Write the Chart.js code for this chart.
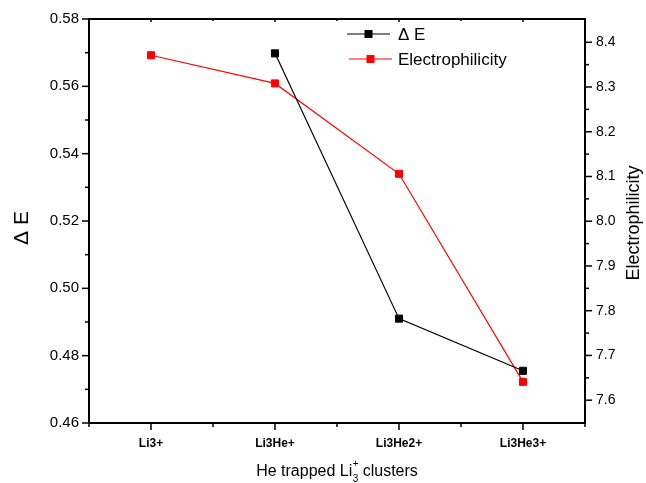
<!DOCTYPE html>
<html>
<head>
<meta charset="utf-8">
<script src="https://cdn.jsdelivr.net/npm/chart.js@4.4.1/dist/chart.umd.min.js"></script>
<style>
  html, body { margin: 0; padding: 0; background: #fff; }
  #wrap { width: 646px; height: 483px; }
</style>
</head>
<body>
<div id="wrap"><canvas id="grafico" width="646" height="483"></canvas></div>
<script>
// dados
const categorias = ["Li3+", "Li3He+", "Li3He2+", "Li3He3+"];
const deltaE = [null, 0.5698, 0.4910, 0.4755];
const eletrofilicidade = [8.371, 8.308, 8.106, 7.641];
const ticksEsq = [0.46, 0.48, 0.50, 0.52, 0.54, 0.56, 0.58];
const ticksDir = [7.6, 7.7, 7.8, 7.9, 8.0, 8.1, 8.2, 8.3, 8.4];

const fonte = '"Liberation Sans", Arial, sans-serif';

// eixos, moldura, títulos e legenda desenhados a partir das escalas do Chart.js
const eixosPlugin = {
    id: 'eixos',
    afterDraw(chart) {
        const ctx = chart.ctx;
        const area = chart.chartArea;
        const sx = chart.scales.x;
        const sy = chart.scales.y;
        const sy2 = chart.scales.y2;

        ctx.save();
        ctx.strokeStyle = '#000';
        ctx.fillStyle = '#000';

        // moldura
        ctx.lineWidth = 2;
        ctx.strokeRect(area.left, area.top, area.right - area.left, area.bottom - area.top);

        ctx.lineWidth = 1.5;
        const linha = (x1, y1, x2, y2) => {
            ctx.beginPath();
            ctx.moveTo(x1, y1);
            ctx.lineTo(x2, y2);
            ctx.stroke();
        };

        // eixo esquerdo
        ctx.font = '15px ' + fonte;
        ctx.textAlign = 'right';
        ctx.textBaseline = 'middle';
        ticksEsq.forEach((v, i) => {
            const y = sy.getPixelForValue(v);
            linha(area.left - 7, y, area.left, y);
            ctx.fillText(v.toFixed(2), area.left - 10, y);
            if (i < ticksEsq.length - 1) {
                const ym = sy.getPixelForValue((v + ticksEsq[i + 1]) / 2);
                linha(area.left - 4, ym, area.left, ym);
            }
        });

        // eixo direito
        ctx.font = '14px ' + fonte;
        ctx.textAlign = 'left';
        ticksDir.forEach((v, i) => {
            const y = sy2.getPixelForValue(v);
            linha(area.right, y, area.right + 7, y);
            ctx.fillText(v.toFixed(1), area.right + 11, y);
            if (i < ticksDir.length - 1) {
                const ym = sy2.getPixelForValue((v + ticksDir[i + 1]) / 2);
                linha(area.right, ym, area.right + 4, ym);
            }
        });

        // eixo inferior (categorias)
        ctx.font = 'bold 12px ' + fonte;
        ctx.textAlign = 'center';
        ctx.textBaseline = 'alphabetic';
        categorias.forEach((c, i) => {
            const x = sx.getPixelForValue(i);
            linha(x, area.bottom, x, area.bottom + 7);
            linha(x, area.top, x, area.top + 3);
            ctx.fillText(c, x, area.bottom + 24);
        });
        for (let i = 0; i <= categorias.length; i++) {
            const x = sx.getPixelForValue(i - 0.5);
            linha(x, area.bottom, x, area.bottom + 4);
            linha(x, area.top, x, area.top + 2);
        }

        // título do eixo x com Li3+ (sobrescrito / subscrito)
        ctx.font = '16px ' + fonte;
        ctx.textAlign = 'left';
        const t1 = 'He trapped Li';
        const t2 = ' clusters';
        const w1 = ctx.measureText(t1).width;
        const w2 = ctx.measureText(t2).width;
        const wInd = 6;
        const total = w1 + wInd + w2;
        const x0 = (area.left + area.right) / 2 - total / 2;
        const base = area.bottom + 53;
        ctx.fillText(t1, x0, base);
        ctx.font = '10px ' + fonte;
        ctx.fillText('+', x0 + w1 + 0.5, base - 9);
        ctx.fillText('3', x0 + w1 + 0.5, base + 6);
        ctx.font = '16px ' + fonte;
        ctx.fillText(t2, x0 + w1 + wInd, base);

        // título eixo esquerdo
        ctx.save();
        ctx.translate(22, 228);
        ctx.rotate(-Math.PI / 2);
        ctx.font = '21px ' + fonte;
        ctx.textAlign = 'center';
        ctx.textBaseline = 'middle';
        ctx.fillText('\u0394 E', 0, 0);
        ctx.restore();

        // título eixo direito
        ctx.save();
        ctx.translate(634, 223);
        ctx.rotate(-Math.PI / 2);
        ctx.font = '18px ' + fonte;
        ctx.textAlign = 'center';
        ctx.textBaseline = 'middle';
        ctx.fillText('Electrophilicity', 0, 0);
        ctx.restore();

        // legenda
        const itens = [
            { ds: chart.data.datasets[0], x: 347, y: 34 },
            { ds: chart.data.datasets[1], x: 349, y: 59 }
        ];
        ctx.font = '17px ' + fonte;
        ctx.textBaseline = 'middle';
        itens.forEach(it => {
            ctx.strokeStyle = it.ds.borderColor;
            ctx.fillStyle = it.ds.borderColor;
            ctx.lineWidth = 1.2;
            linha(it.x, it.y, it.x + 43, it.y);
            ctx.fillRect(it.x + 21.5 - 4, it.y - 4, 8, 8);
            ctx.fillStyle = '#000';
            ctx.fillText(it.ds.label, 398, it.y + 1);
        });

        ctx.restore();
    }
};

const ctxGrafico = document.getElementById('grafico').getContext('2d');
const grafico = new Chart(ctxGrafico, {
    type: 'line',
    data: {
        labels: categorias,
        datasets: [
            {
                label: '\u0394 E',
                data: deltaE,
                yAxisID: 'y',
                borderColor: '#000000',
                backgroundColor: '#000000',
                borderWidth: 1.2,
                pointStyle: 'rect',
                pointRadius: 5,
                pointBorderWidth: 1,
                tension: 0
            },
            {
                label: 'Electrophilicity',
                data: eletrofilicidade,
                yAxisID: 'y2',
                borderColor: '#ff0000',
                backgroundColor: '#ff0000',
                borderWidth: 1.2,
                pointStyle: 'rect',
                pointRadius: 5,
                pointBorderWidth: 1,
                tension: 0
            }
        ]
    },
    options: {
        responsive: false,
        animation: false,
        devicePixelRatio: 1,
        layout: { padding: { left: 89, top: 19, right: 61, bottom: 60 } },
        plugins: { legend: { display: false }, tooltip: { enabled: false } },
        scales: {
            x: { type: 'category', offset: true, display: false },
            y: { type: 'linear', min: 0.46, max: 0.58, display: false },
            y2: { type: 'linear', position: 'right', min: 7.549, max: 8.452, display: false }
        }
    },
    plugins: [eixosPlugin]
});
</script>
</body>
</html>
